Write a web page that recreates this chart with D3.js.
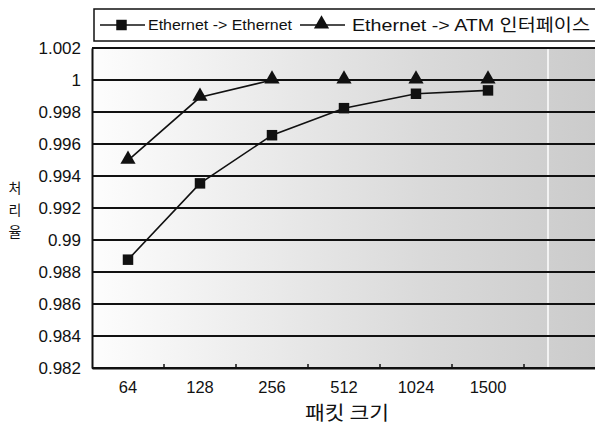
<!DOCTYPE html>
<html>
<head>
<meta charset="utf-8">
<script src="https://cdn.jsdelivr.net/npm/d3@7"></script>
<style>
  body { margin: 0; background: #fff; }
  .ko { font-family: "Noto Sans CJK KR", "Liberation Sans", sans-serif; fill: #111; }
  .lg { font-family: "Liberation Sans", "Noto Sans CJK KR", sans-serif; fill: #111; }
</style>
</head>
<body>
<div class="chart"></div>
<script>
// data
const sizes = ["64", "128", "256", "512", "1024", "1500", ""];
const ethToEth = [0.98877, 0.99354, 0.99655, 0.99824, 0.99914, 0.99935];
const ethToAtm = [0.99498, 0.99892, 1.0, 1.0, 1.0, 1.0];
const yTicks = [0.982, 0.984, 0.986, 0.988, 0.99, 0.992, 0.994, 0.996, 0.998, 1, 1.002];
const seriesNames = ["Ethernet -> Ethernet", "Ethernet -> ATM 인터페이스"];

function init(){
    createChart(".chart");
}

function createChart(id){
    const W = 595, H = 432;
    const margin = {top: 48, right: -1, bottom: 64, left: 92};
    const width = W - margin.left - margin.right,
          height = H - margin.top - margin.bottom;

    const svg = d3.select(id)
        .append("svg")
        .attr("width", W)
        .attr("height", H);

    // grey shading that gets darker to the right
    const grad = svg.append("defs").append("linearGradient")
        .attr("id", "bg").attr("x1", "0").attr("x2", "1").attr("y1", "0").attr("y2", "0");
    grad.append("stop").attr("offset", "0%").attr("stop-color", "#fdfdfd");
    grad.append("stop").attr("offset", "30%").attr("stop-color", "#ededed");
    grad.append("stop").attr("offset", "65%").attr("stop-color", "#dadada");
    grad.append("stop").attr("offset", "100%").attr("stop-color", "#cbcbcb");

    const g = svg.append("g")
        .attr("transform", `translate(${margin.left}, ${margin.top})`);

    const x = d3.scaleBand().domain(sizes.map((d, i) => i)).range([0, width]);
    const y = d3.scaleLinear().domain([0.982, 1.002]).range([height, 0]);

    g.append("rect")
        .attr("width", width).attr("height", height)
        .attr("fill", "url(#bg)");
    // scan streak
    g.append("line")
        .attr("x1", 548 - margin.left).attr("x2", 548 - margin.left)
        .attr("y1", 0).attr("y2", height)
        .attr("stroke", "#fff").attr("stroke-width", 1.5);

    // gridlines
    g.selectAll(".grid")
        .data(yTicks)
        .join("line")
        .attr("class", "grid")
        .attr("x1", 0).attr("x2", width)
        .attr("y1", d => y(d)).attr("y2", d => y(d))
        .attr("stroke", "#111").attr("stroke-width", 2);

    // y axis
    const yAxis = g.append("g")
        .call(d3.axisLeft(y).tickValues(yTicks).tickSize(0).tickPadding(11)
            .tickFormat(d => d3.format("")(+d.toFixed(3))))
        .attr("font-size", 17)
        .attr("font-family", "'Liberation Sans', Arial, sans-serif");
    yAxis.select(".domain").attr("stroke", "#111").attr("stroke-width", 2);
    yAxis.selectAll("text").attr("fill", "#111");

    // x axis, ticks between categories pointing up
    const xAxis = g.append("g")
        .attr("transform", `translate(0, ${height})`)
        .call(d3.axisBottom(x).tickSize(0).tickPadding(13).tickFormat(i => sizes[i]))
        .attr("font-size", 16.5)
        .attr("font-family", "'Liberation Sans', Arial, sans-serif");
    xAxis.select(".domain").attr("stroke", "#111").attr("stroke-width", 2);
    xAxis.selectAll("text").attr("fill", "#111");
    g.selectAll(".xtick")
        .data(sizes.slice(1))
        .join("line")
        .attr("class", "xtick")
        .attr("x1", (d, i) => x(i + 1)).attr("x2", (d, i) => x(i + 1))
        .attr("y1", height).attr("y2", height - 4)
        .attr("stroke", "#111").attr("stroke-width", 1.5);

    const cx = i => x(i) + x.bandwidth() / 2;
    const line = d3.line().x((d, i) => cx(i)).y(d => y(d));

    // series lines
    [ethToEth, ethToAtm].forEach(s => {
        g.append("path")
            .datum(s)
            .attr("d", line)
            .attr("fill", "none")
            .attr("stroke", "#111")
            .attr("stroke-width", 1.6);
    });

    const sq = d3.symbol().type(d3.symbolSquare).size(110);
    const tri = d3.symbol().type(d3.symbolTriangle).size(100);

    g.selectAll(".sq")
        .data(ethToEth)
        .join("path")
        .attr("class", "sq")
        .attr("d", sq)
        .attr("transform", (d, i) => `translate(${cx(i)}, ${y(d)})`)
        .attr("fill", "#111");
    g.selectAll(".tri")
        .data(ethToAtm)
        .join("path")
        .attr("class", "tri")
        .attr("d", tri)
        .attr("transform", (d, i) => `translate(${cx(i)}, ${y(d) - 1})`)
        .attr("fill", "#111");

    // axis titles
    svg.append("text")
        .attr("class", "ko")
        .attr("x", 347).attr("y", 420)
        .attr("text-anchor", "middle")
        .attr("font-size", 19)
        .attr("textLength", 84)
        .attr("lengthAdjust", "spacingAndGlyphs")
        .text("패킷 크기");
    const yl = svg.append("text")
        .attr("class", "ko")
        .attr("text-anchor", "middle")
        .attr("font-size", 14);
    ["처", "리", "율"].forEach((c, i) => {
        yl.append("tspan").attr("x", 15).attr("y", 193 + i * 22).text(c);
    });

    // legend
    const leg = svg.append("g");
    leg.append("rect")
        .attr("x", 94).attr("y", 9).attr("width", 510).attr("height", 32)
        .attr("fill", "#fff").attr("stroke", "#111").attr("stroke-width", 1.5);
    const items = [
        {x0: 100, sym: sq, size: 15, tx: 148},
        {x0: 300, sym: tri, size: 17, tx: 352}
    ];
    items.forEach((it, i) => {
        leg.append("line")
            .attr("x1", it.x0).attr("x2", it.x0 + 45)
            .attr("y1", 25).attr("y2", 25)
            .attr("stroke", "#111").attr("stroke-width", 1.6);
        leg.append("path")
            .attr("d", it.sym)
            .attr("transform", `translate(${it.x0 + 21.5}, ${i ? 24 : 25})`)
            .attr("fill", "#111");
        leg.append("text")
            .attr("class", "lg")
            .attr("x", it.tx).attr("y", 25)
            .attr("dy", "0.36em")
            .attr("textLength", i ? 238 : 144)
            .attr("lengthAdjust", "spacingAndGlyphs")
            .attr("font-size", it.size)
            .text(seriesNames[i]);
    });
}

init();
</script>
</body>
</html>
